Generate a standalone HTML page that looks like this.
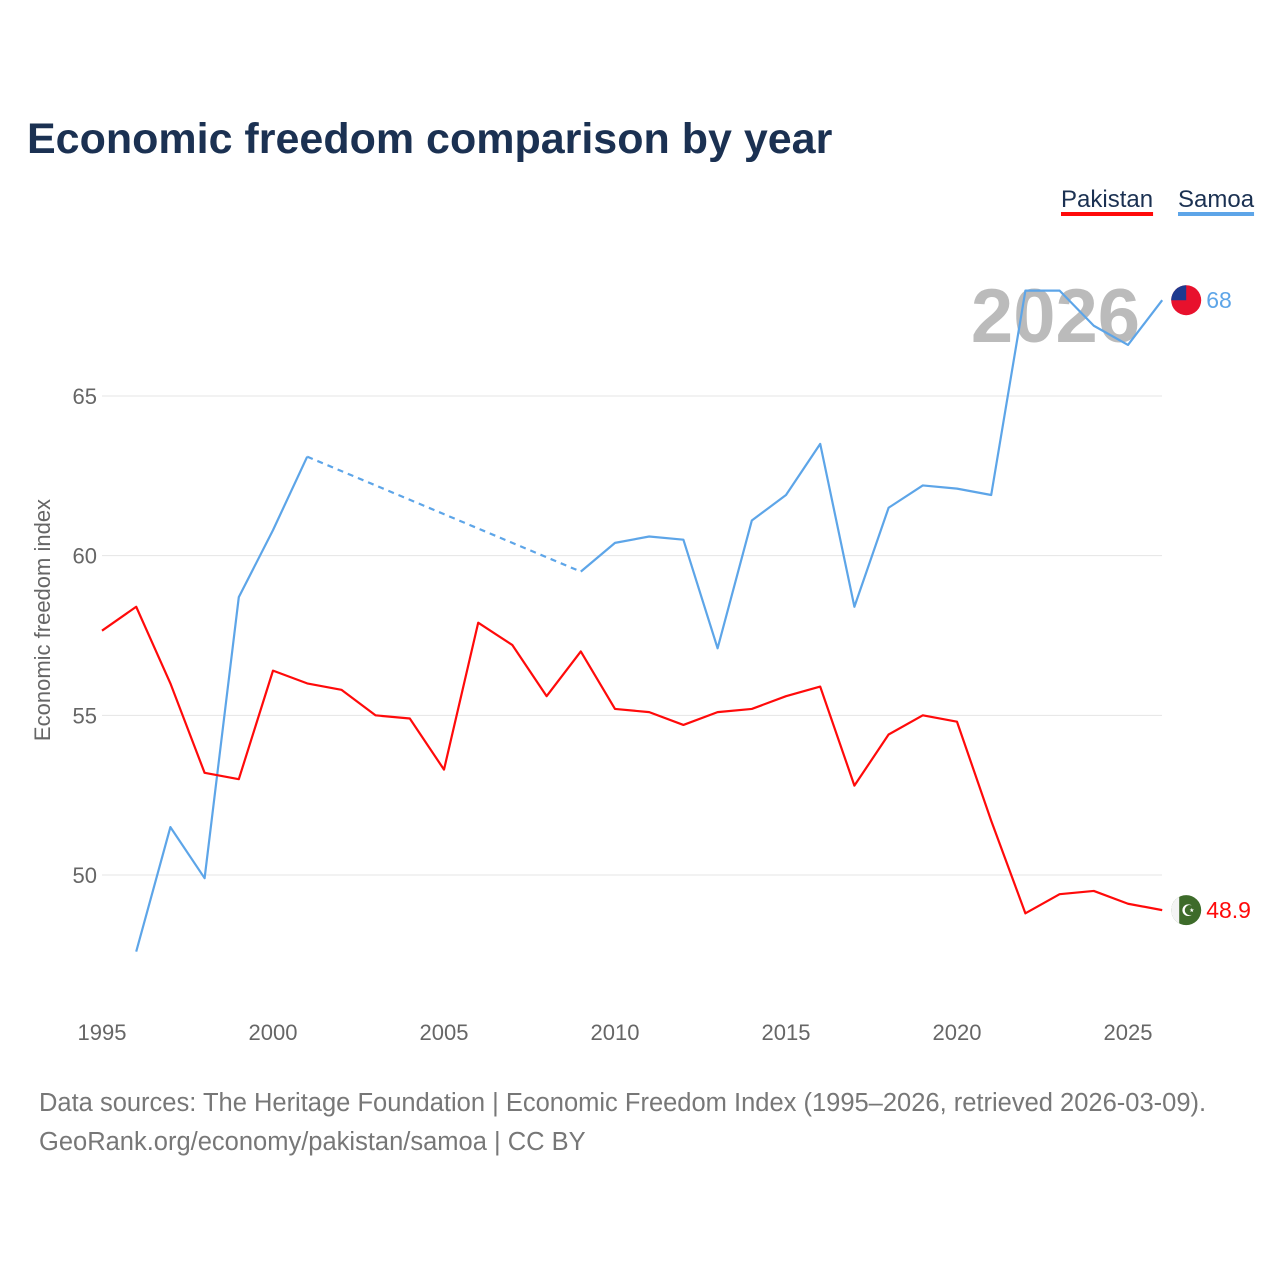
<!DOCTYPE html>
<html><head><meta charset="utf-8">
<style>
body{margin:0;background:#fff;font-family:"Liberation Sans",sans-serif;}
#wrap{position:relative;width:1280px;height:1280px;overflow:hidden;}
</style></head>
<body>
<div id="wrap">
<svg id="chart" width="1280" height="1280"></svg>
</div>
<script>
const years = [1995,1996,1997,1998,1999,2000,2001,2002,2003,2004,2005,2006,2007,2008,2009,2010,2011,2012,2013,2014,2015,2016,2017,2018,2019,2020,2021,2022,2023,2024,2025,2026];
const pakistan = [57.65,58.4,56.0,53.2,53.0,56.4,56.0,55.8,55.0,54.9,53.3,57.9,57.2,55.6,57.0,55.2,55.1,54.7,55.1,55.2,55.6,55.9,52.8,54.4,55.0,54.8,51.7,48.8,49.4,49.5,49.1,48.9];
const samoa = [null,47.6,51.5,49.9,58.7,60.8,63.1,null,null,null,null,null,null,null,59.5,60.4,60.6,60.5,57.1,61.1,61.9,63.5,58.4,61.5,62.2,62.1,61.9,68.3,68.3,67.2,66.6,68.0];
const yTicks = [50,55,60,65];
const xTicks = [1995,2000,2005,2010,2015,2020,2025];

const NS='http://www.w3.org/2000/svg';
const svg=document.getElementById('chart');
const X=y=>102+(y-1995)*(1128-102)/30;
const Y=v=>875-(v-50)*(875-396)/15;
function el(t,a,p){const e=document.createElementNS(NS,t);for(const k in a)e.setAttribute(k,a[k]);(p||svg).appendChild(e);return e;}

let t=el('text',{x:27,y:153,'font-size':43,'font-weight':'bold',fill:'#1b3152'});


t.textContent='Economic freedom comparison by year';

yTicks.forEach(v=>{
  const g=el('line',{x1:102,x2:1162,y1:Y(v),y2:Y(v),stroke:'#e4e4e4','stroke-width':1});
  
  
  const l=el('text',{x:97,y:Y(v)+8,'font-size':22,fill:'#666','text-anchor':'end'});
  
  
  l.textContent=v;
});
xTicks.forEach(v=>{
  const l=el('text',{x:X(v),y:1040,'font-size':22,fill:'#666','text-anchor':'middle'});
  
  
  l.textContent=v;
});
let yt=el('text',{x:0,y:0,'font-size':22,fill:'#666','text-anchor':'middle',transform:'translate(50,620) rotate(-90)'});


yt.textContent='Economic freedom index';

let yr=el('text',{x:1140,y:342,'font-size':76,'font-weight':'bold',fill:'#bbb','text-anchor':'end'});


yr.textContent='2026';

function drawSeries(vals,color,name){
  let seg=[],segs=[];
  vals.forEach((v,i)=>{if(v==null){if(seg.length)segs.push(seg);seg=[];}else seg.push([X(years[i]),Y(v)]);});
  if(seg.length)segs.push(seg);
  segs.forEach(s=>{
    const p=el('polyline',{points:s.map(q=>q.join(',')).join(' '),fill:'none',stroke:color,'stroke-width':2.2,'stroke-linejoin':'round'});
    
    
  });
  for(let i=0;i<segs.length-1;i++){
    const a=segs[i][segs[i].length-1],b=segs[i+1][0];
    const d=el('line',{x1:a[0],y1:a[1],x2:b[0],y2:b[1],stroke:color,'stroke-width':2.2,'stroke-dasharray':'6,5'});
    
    
  }
}
drawSeries(samoa,'#5da5e8','samoa');
drawSeries(pakistan,'#ff0a0a','pakistan');

const lastX=X(2026);
function endLabel(v,color,name,flag){
  const cy=Y(v);
  const c=el('circle',{cx:lastX+24,cy:cy,r:15,fill:flag});
  
  
  const l=el('text',{x:lastX+44,y:cy+8,'font-size':23,fill:color});
  
  
  l.textContent=v;
  return cy;
}
const sy=endLabel(samoa[samoa.length-1],'#5da5e8','samoa','#e8112d');
el('path',{d:`M${lastX+9},${sy} A15,15 0 0 1 ${lastX+24},${sy-15} L${lastX+24},${sy} Z`,fill:'#1e3a8f'});
const py=endLabel(pakistan[pakistan.length-1],'#ff0a0a','pakistan','#3d6b2a');
el('path',{d:`M${lastX+17},${py-13.3} A15,15 0 0 0 ${lastX+17},${py+13.3} Z`,fill:'#f4f4f4'});
el('text',{x:lastX+26,y:py+6,'font-size':16,fill:'#fff','text-anchor':'middle'}).textContent='☪';

function legend(x,label,color,name){
  const l=el('text',{x:x,y:207,'font-size':24,fill:'#1b3152'});
  
  
  l.textContent=label;
  const w=l.getComputedTextLength();
  const r=el('rect',{x:x,y:212,width:w,height:4,fill:color});
  
  
}
legend(1061,'Pakistan','#ff0a0a','pakistan');
legend(1178,'Samoa','#5da5e8','samoa');

let s1=el('text',{x:39,y:1111,'font-size':25.5,fill:'#777'});


s1.textContent='Data sources: The Heritage Foundation | Economic Freedom Index (1995–2026, retrieved 2026-03-09).';
let s2=el('text',{x:39,y:1150,'font-size':25.5,fill:'#777'});


s2.textContent='GeoRank.org/economy/pakistan/samoa | CC BY';
</script>
</body></html>
